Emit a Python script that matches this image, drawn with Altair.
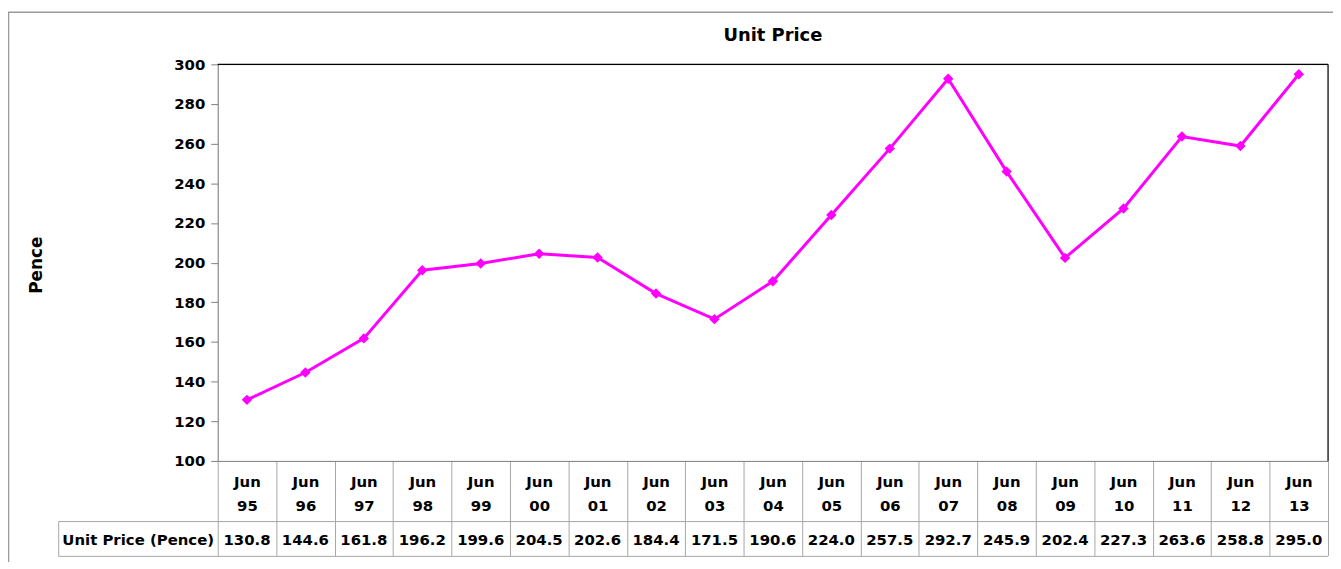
import altair as alt
import pandas as pd

categories = ["Jun 95", "Jun 96", "Jun 97", "Jun 98", "Jun 99", "Jun 00", "Jun 01",
              "Jun 02", "Jun 03", "Jun 04", "Jun 05", "Jun 06", "Jun 07", "Jun 08",
              "Jun 09", "Jun 10", "Jun 11", "Jun 12", "Jun 13"]
values = [130.8, 144.6, 161.8, 196.2, 199.6, 204.5, 202.6, 184.4, 171.5, 190.6,
          224.0, 257.5, 292.7, 245.9, 202.4, 227.3, 263.6, 258.8, 295.0]
y_ticks = [100, 120, 140, 160, 180, 200, 220, 240, 260, 280, 300]
chart_title = "Unit Price"
row_header = "Unit Price (Pence)"

df = pd.DataFrame({"cat": categories, "val": values})

FONT = "DejaVu Sans"
FS = 15
GRID = "#a6a6a6"
W, H = 1117, 399

xenc = alt.X("cat:N", sort=categories,
             scale=alt.Scale(paddingInner=0, paddingOuter=0),
             axis=alt.Axis(title=None, labelAngle=0,
                           labelExpr="split(datum.label, ' ')",
                           labelFont=FONT, labelFontSize=FS, labelFontWeight="bold",
                           labelColor="#000", labelBaseline="top", labelPadding=-81,
                           labelAlign="center",
                           labelLineHeight=24,
                           tickBand="extent", tickSize=95, tickColor=GRID,
                           domainColor="#808080"))
yenc = alt.Y("val:Q", scale=alt.Scale(domain=[100, 300], nice=False, zero=False),
             axis=alt.Axis(values=y_ticks, title="Pence", titleAngle=-90,
                           titleX=-182, titleY=H / 2 + 2, titleAlign="center",
                           titleBaseline="middle",
                           titleFont=FONT, titleFontSize=17, titleFontWeight="bold",
                           labelFont=FONT, labelFontSize=FS, labelFontWeight="bold",
                           labelColor="#000", labelPadding=6, tickSize=7,
                           labelOverlap=False, labelBound=False,
                           tickColor="#808080", domainColor="#808080", grid=False))

base = alt.Chart(df)

line = base.mark_line(color="#FF00FF", strokeWidth=3).encode(x=xenc, y=yenc)
pts = base.mark_point(shape="diamond", filled=True, size=110, color="#FF00FF",
                      opacity=1).encode(x=xenc, y=yenc)

vals = base.mark_text(font=FONT, fontSize=FS, fontWeight="bold", color="#000",
                      baseline="middle").encode(
    x=xenc,
    y=alt.value(479),
    text=alt.Text("val:Q", format=".1f"))

one = pd.DataFrame({"k": [0]})

hdr = alt.Chart(pd.DataFrame({"t": [row_header]})).mark_text(
    font=FONT, fontSize=FS, fontWeight="bold", color="#000", baseline="middle",
    align="center").encode(x=alt.value(-80), y=alt.value(479), text="t:N")

ttl = alt.Chart(pd.DataFrame({"t": [chart_title]})).mark_text(
    font=FONT, fontSize=18, fontWeight="bold", color="#000", baseline="middle",
    align="center").encode(x=alt.value(W / 2), y=alt.value(-28), text="t:N")

hl1 = alt.Chart(one).mark_rule(color=GRID, strokeWidth=1).encode(
    x=alt.value(-160), x2=alt.value(W), y=alt.value(460))
hl2 = alt.Chart(one).mark_rule(color=GRID, strokeWidth=1).encode(
    x=alt.value(-160), x2=alt.value(W), y=alt.value(495))
vl = alt.Chart(one).mark_rule(color=GRID, strokeWidth=1).encode(
    x=alt.value(-160), y=alt.value(460), y2=alt.value(495))
top = alt.Chart(one).mark_rule(color="#000", strokeWidth=1.2).encode(
    x=alt.value(0), x2=alt.value(W), y=alt.value(0))
right = alt.Chart(one).mark_rule(color="#000", strokeWidth=1.2).encode(
    x=alt.value(W), y=alt.value(0), y2=alt.value(H))
frame = alt.Chart(one).mark_rect(
    fill=None, stroke="#9a9a9a", strokeWidth=1.5).encode(
    x=alt.value(-210.5), x2=alt.value(W + 60), y=alt.value(-52.5), y2=alt.value(H + 200))

chart = alt.layer(frame, hl1, hl2, vl, top, right, ttl, hdr, vals, line, pts).properties(
    width=W, height=H,
    padding={"left": 211, "top": 55, "right": 5, "bottom": 100},
    autosize=alt.AutoSizeParams(type="none"),
).configure_view(stroke=None).configure(background="white")

chart.save("out.html", embed_options={"renderer": "svg", "actions": False})
